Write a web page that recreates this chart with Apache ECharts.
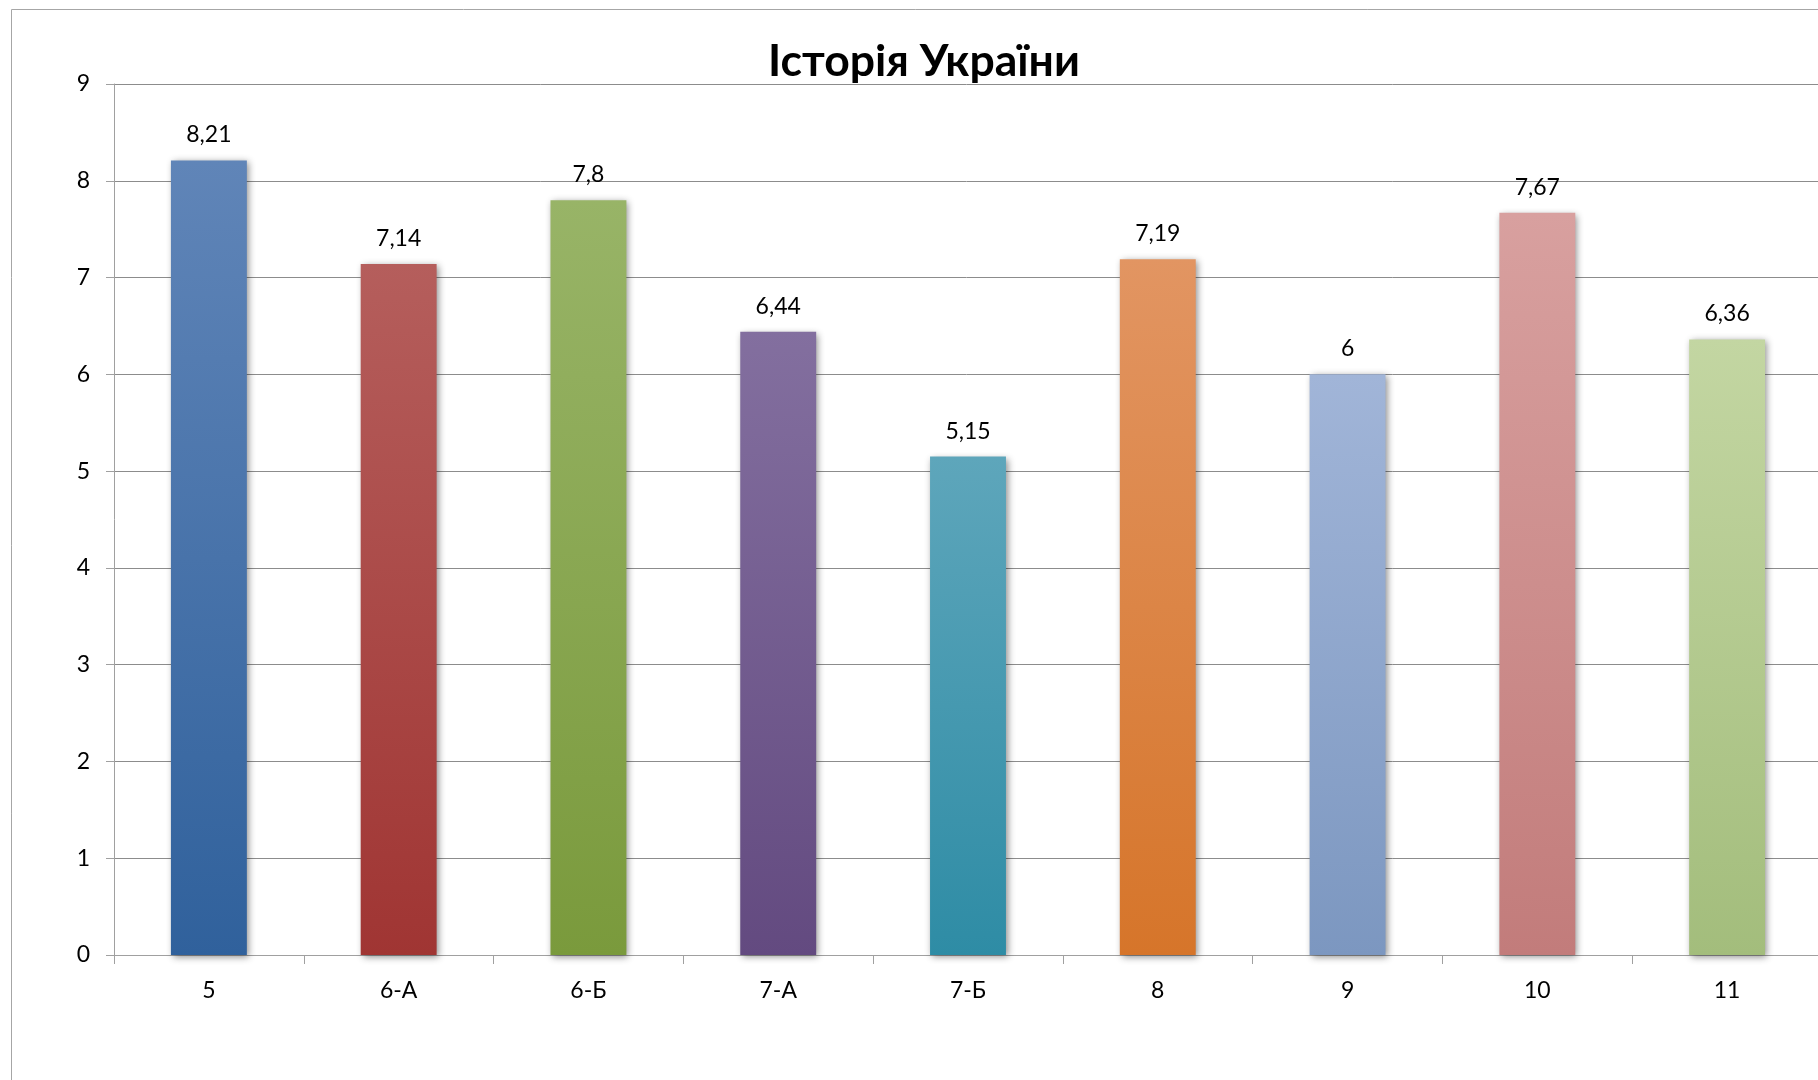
<!DOCTYPE html>
<html>
<head>
<meta charset="utf-8">
<script src="https://cdn.jsdelivr.net/npm/echarts@6/dist/echarts.min.js"></script>
<style>
html,body{margin:0;padding:0;background:#fff;}
#chart{width:1818px;height:1080px;}
</style>
</head>
<body>
<div id="chart"></div>
<script>
const categories = ['5', '6-А', '6-Б', '7-А', '7-Б', '8', '9', '10', '11'];
const values = [8.21, 7.14, 7.8, 6.44, 5.15, 7.19, 6, 7.67, 6.36];
const topColors = ['#6085b8', '#b55e5c', '#98b467', '#836f9f', '#5ea6bb', '#e29562', '#a1b5d8', '#d8a09f', '#c3d6a2'];
const bottomColors = ['#30619c', '#a03533', '#7a9a3c', '#634a80', '#2e8ca5', '#d6752a', '#7c97c0', '#c27c7b', '#a3bd7c'];
const yTicks = [0, 9, 1];
const titleText = 'Історія України';

const FONT = 'Lato';
const chart = echarts.init(document.getElementById('chart'));

const seriesData = values.map((v, i) => ({
  value: v,
  itemStyle: {
    color: new echarts.graphic.LinearGradient(0, 0, 0, 1, [
      { offset: 0, color: topColors[i] },
      { offset: 1, color: bottomColors[i] }
    ])
  }
}));

chart.setOption({
  animation: false,
  backgroundColor: '#ffffff',
  title: {
    text: titleText,
    left: 919,
    top: 34,
    textAlign: 'center',
    textStyle: { fontFamily: FONT, fontWeight: 'bold', fontSize: 44.5, color: '#000' }
  },
  graphic: [{
    type: 'rect',
    shape: { x: 11.5, y: 9.5, width: 1900, height: 1200 },
    style: { fill: 'none', stroke: '#a6a6a6', lineWidth: 1 },
    silent: true,
    z: -1
  }],
  grid: { left: 114, top: 84, width: 1708, height: 871, outerBoundsMode: 'none', containLabel: false },
  xAxis: {
    type: 'category',
    data: categories,
    boundaryGap: true,
    axisLine: { show: true, lineStyle: { color: '#a0a0a0', width: 1 } },
    axisTick: { show: true, length: 9, alignWithLabel: false, lineStyle: { color: '#a0a0a0' } },
    axisLabel: { fontFamily: FONT, fontSize: 23, color: '#000', margin: 24 }
  },
  yAxis: {
    type: 'value',
    min: yTicks[0],
    max: yTicks[1],
    interval: yTicks[2],
    axisLine: { show: true, lineStyle: { color: '#a0a0a0', width: 1 } },
    axisTick: { show: true, length: 8, lineStyle: { color: '#a0a0a0' } },
    axisLabel: { fontFamily: FONT, fontSize: 23, color: '#000', margin: 24 },
    splitLine: { show: true, lineStyle: { color: '#8c8c8c', width: 1 } }
  },
  series: [{
    type: 'bar',
    data: seriesData,
    barWidth: '40%',
    itemStyle: {
      shadowBlur: 7,
      shadowColor: 'rgba(0,0,0,0.45)',
      shadowOffsetX: 2,
      shadowOffsetY: 2
    },
    label: {
      show: true,
      position: 'top',
      distance: 14,
      fontFamily: FONT,
      fontSize: 23,
      color: '#000',
      formatter: p => String(p.value).replace('.', ',')
    }
  }]
});
</script>
</body>
</html>
